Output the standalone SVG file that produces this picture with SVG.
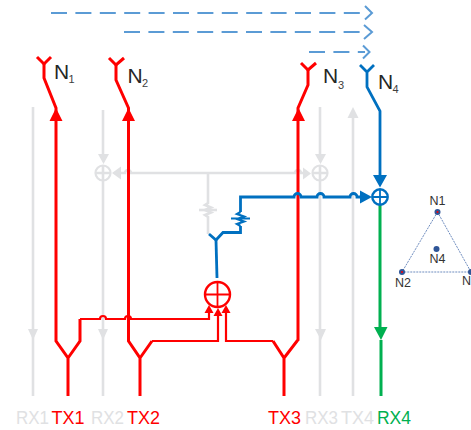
<svg xmlns="http://www.w3.org/2000/svg" width="471" height="430" viewBox="0 0 471 430">
<style>
.l{fill:none;stroke-linejoin:miter;stroke-linecap:butt}
.gr{stroke:#e0e1e3;stroke-width:2.6}
.r{stroke:#ff0000;stroke-width:3}
.r2{stroke:#ff0000;stroke-width:2.2}
.b{stroke:#0070c0;stroke-width:2.8}
.b2{stroke:#0070c0;stroke-width:2.2}
.g{stroke:#00b050;stroke-width:3}
.d{stroke:#5b9bd5;stroke-width:2;stroke-dasharray:16 8.4}
.c{stroke:#5b9bd5;stroke-width:2}
.fgr{fill:#e0e1e3}.fr{fill:#ff0000}.fb{fill:#0070c0}.fg{fill:#00b050}
text{font-family:"Liberation Sans",Arial,sans-serif}
.n{font-size:21px;fill:#262626}
.s{font-size:11px;fill:#404040}
.lb{font-size:19px}
.m{font-size:12.500px;fill:#333333}
</style>
<g id="connectors">
<g id="beams">
<path class="l d" d="M51 13H365"/><path class="l c" d="M365 6l7 7l-7 6.500"/>
<path class="l d" d="M124 32H365"/><path class="l c" d="M364 25l8 7l-8 7"/>
<path class="l d" d="M309 52H365"/><path class="l c" d="M363 45.500l6.500 6.500l-6.500 6.500"/>
</g>
<g id="gray-lines">
<path class="l gr" d="M33 107V396"/><path class="fgr" d="M28 329h10l-5 11z"/>
<path class="l gr" d="M103 110V154M103 181V396"/><path class="fgr" d="M98 329h10l-5 11zM98 154h11l-5.500 10z"/>
<path class="l gr" d="M320 107V154M320 181V396"/><path class="fgr" d="M315 329h11l-5 11zM315 154h11l-5.500 10z"/>
<path class="l gr" d="M353 118V396"/><path class="fgr" d="M347.500 118h11l-5.500-11z"/>
<path class="l gr" d="M121 173H125a3 3 0 0 1 6 0H295a3 3 0 0 1 6 0H303"/>
<path class="fgr" d="M121 166.500v13l-9-6.500zM303 167.500v12l8-6z"/>
<path class="l gr" d="M208 173V203L205 205L211 207.500L205 210L211 212.500L205 215L208 217V234"/>
<path class="l gr" d="M199 210H217"/>
</g>
<g id="tx-lines">
<path class="l r" d="M44 64V78L56 108V341L68 358V396M68 358L80 341V319"/>
<path class="l r2" d="M80 319H100a3 3 0 0 1 6 0H125a3 3 0 0 1 6 0H209V312"/>
<path class="l r" d="M116 65V80L128.500 108V341L140 358V396M140 358L152 341"/>
<path class="l r2" d="M152 341H218V316"/>
<path class="l r" d="M308 70V85L298 108V340L297 341L284 358V396M284 358L273 341"/>
<path class="l r2" d="M273 341H226V312"/>
<path class="l r" d="M37 57L44 64L51 57M109 58L116 65L124 58M301 63L308 70L316 63"/>
<path class="fr" d="M49.500 121h13l-6.500-13zM122 121h13l-6.500-13zM292 121h13l-6.500-13zM204.500 313h9l-4.500-8zM213.500 316h9l-4.500-8zM221.500 313h9l-4.500-8z"/>
</g>
<g id="rx-line">
<path class="l g" d="M380 205V327M381 340V396"/>
<path class="fg" d="M374 327h13.500l-6.500 13z"/>
</g>
<g id="blue-lines">
<path class="l b" d="M360 65L367 72L374 65M367 72V87L380 111V175"/>
<path class="fb" d="M373 175h14l-7 12.500zM360 190.500v13l12-6.500z"/>
<path class="l b" d="M209 234L216 240L223 232.500H240.500V226M240.500 212V197H294a3.500 3.500 0 0 1 7 0H317a3.500 3.500 0 0 1 7 0H350a3.500 3.500 0 0 1 7 0H360" stroke-width="2.400"/>
<path class="l b" d="M216 240L217 278"/>
<path class="l b2" d="M240.500 212L237 214L244 216.500L237 219L244 221.500L237 224L240.500 226M231 218.500H250"/>
</g>
</g>
<g id="node-n1"><text class="n" x="54" y="79">N</text><text class="s" x="68.500" y="83">1</text></g>
<g id="node-n2"><text class="n" x="127.500" y="83">N</text><text class="s" x="142" y="87">2</text></g>
<g id="node-n3"><text class="n" x="323" y="83">N</text><text class="s" x="338" y="89">3</text></g>
<g id="node-n4"><text class="n" x="378" y="89">N</text><text class="s" x="392.500" y="93">4</text></g>
<g id="sum-rx2"><circle cx="103" cy="173" r="7.500" fill="none" stroke="#e0e1e3" stroke-width="2.200"/><path class="l gr" stroke-width="1.800" d="M95 173H111M103 165V181"/></g>
<g id="sum-rx3"><circle cx="320" cy="173" r="7.500" fill="none" stroke="#e0e1e3" stroke-width="2.200"/><path class="l gr" stroke-width="1.800" d="M312 173H328M320 165V181"/></g>
<g id="sum-rx4"><circle cx="380" cy="197" r="7.700" fill="#fff" stroke="#0070c0" stroke-width="2.400"/><path class="l b2" d="M372 197H388M380 189V205" style="stroke-width:1.800"/></g>
<g id="sum-tx"><circle cx="217.500" cy="294.500" r="12.500" fill="#fff" stroke="#ff0000" stroke-width="2.400"/><path class="l r2" d="M205 294.500H230M217.500 282V307" style="stroke-width:1.800"/></g>
<g id="labels">
<text class="lb" x="16" y="424" fill="#e0e1e3" textLength="33" lengthAdjust="spacingAndGlyphs">RX1</text>
<text class="lb" x="51.500" y="424" fill="#ff0000" textLength="33" lengthAdjust="spacingAndGlyphs">TX1</text>
<text class="lb" x="91" y="424" fill="#e0e1e3" textLength="33" lengthAdjust="spacingAndGlyphs">RX2</text>
<text class="lb" x="127" y="424" fill="#ff0000" textLength="33" lengthAdjust="spacingAndGlyphs">TX2</text>
<text class="lb" x="268" y="424" fill="#ff0000" textLength="33" lengthAdjust="spacingAndGlyphs">TX3</text>
<text class="lb" x="305" y="424" fill="#e0e1e3" textLength="33" lengthAdjust="spacingAndGlyphs">RX3</text>
<text class="lb" x="341" y="424" fill="#e0e1e3" textLength="33" lengthAdjust="spacingAndGlyphs">TX4</text>
<text class="lb" x="377" y="424" fill="#00b050" textLength="34" lengthAdjust="spacingAndGlyphs">RX4</text>
</g>
<g id="topology">
<path d="M437.500 212L402 272H471M437.500 212L471 272" fill="none" stroke="#6f8dbf" stroke-width="1" stroke-dasharray="2 1"/>
<g id="topo-n1"><circle cx="437.500" cy="212" r="3" fill="#2f5597"/><circle cx="437.500" cy="212" r="1" fill="#ff0000"/><text class="m" x="437.500" y="205" text-anchor="middle">N1</text></g>
<g id="topo-n2"><circle cx="402" cy="272" r="3" fill="#2f5597"/><circle cx="402" cy="272" r="1" fill="#ff0000"/><text class="m" x="403" y="287" text-anchor="middle">N2</text></g>
<g id="topo-n3"><circle cx="471" cy="272" r="3" fill="#2f5597"/><text class="m" x="462" y="285">N</text></g>
<g id="topo-n4"><circle cx="436.500" cy="249" r="3" fill="#2f5597"/><text class="m" x="437.500" y="263" text-anchor="middle">N4</text></g>
</g>
</svg>
